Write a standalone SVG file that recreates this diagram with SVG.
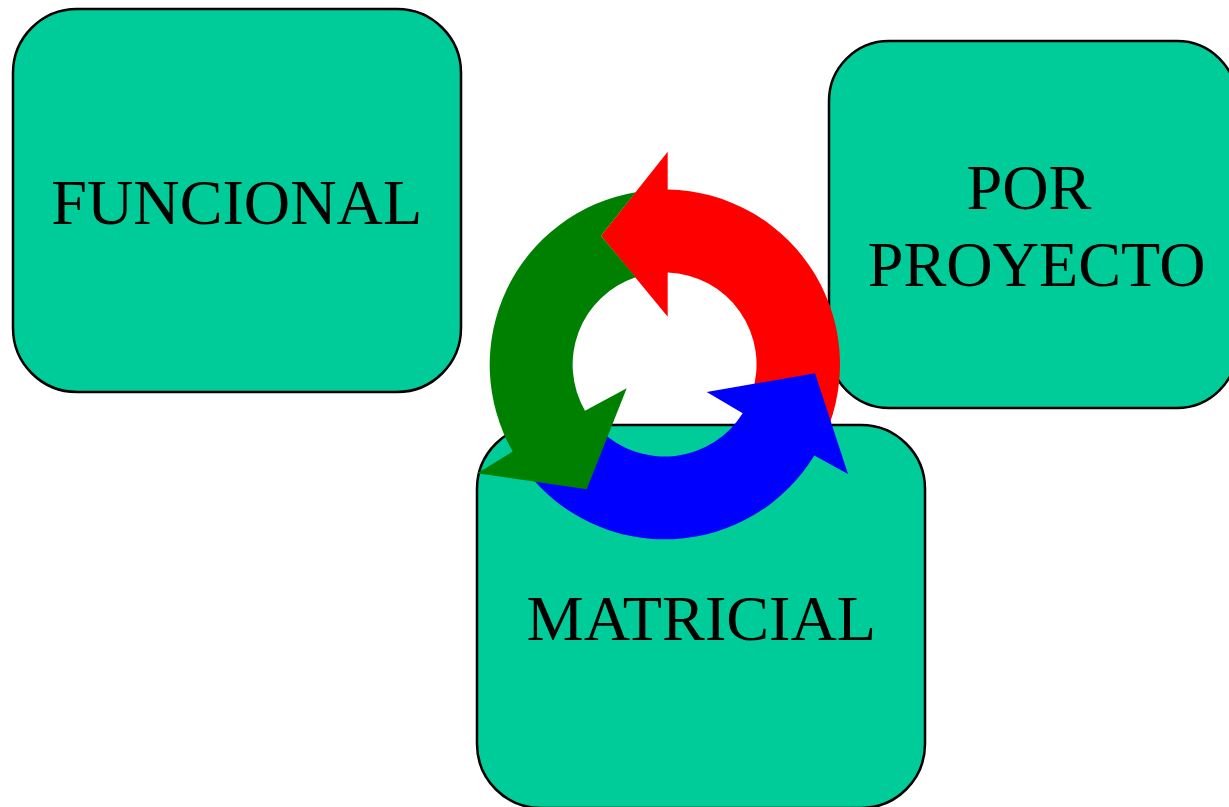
<svg xmlns="http://www.w3.org/2000/svg" width="1229" height="807" viewBox="0 0 1229 807">
<style>
.box{fill:#00cc99;stroke:#000;stroke-width:2.5}
text{font-family:"Liberation Serif",serif;font-size:64.2px;fill:#000;text-anchor:middle}
</style>
<rect width="1229" height="807" fill="#fff"/>
<g id="funcional"><rect class="box" x="13" y="9" width="448" height="383" rx="64" ry="64"/><text x="236.7" y="224">FUNCIONAL</text></g>
<g id="por-proyecto"><rect class="box" x="829" y="41" width="408" height="367" rx="60" ry="60"/><text x="1029" y="209">POR</text><text x="1036.7" y="286">PROYECTO</text></g>
<g id="matricial"><rect class="box" x="477" y="425" width="448" height="383" rx="64" ry="64"/><text x="701.3" y="640">MATRICIAL</text></g>
<g id="connectors">
<path id="arrow-red" fill="#ff0000" d="M667.7 151.7L601 235.7L667.7 316.7V272.5A92 92 0 0 1 752 393L820 445.7A175 175 0 0 0 667.7 189.5Z"/>
<path id="arrow-blue" fill="#0000ff" d="M706.7 392L815 373.3L848 474L814.3 455.5A175 175 0 0 1 525 469.5L600 430A92 92 0 0 0 742.7 413.3Z"/>
<path id="arrow-green" fill="#008000" d="M635.7 192.2A175 175 0 0 0 512.7 451.5L477.3 473.3L586.7 489.3L626.7 388.3L585 410.7A92 92 0 0 1 635.7 277.3L601 235.7Z"/>
</g>
</svg>
